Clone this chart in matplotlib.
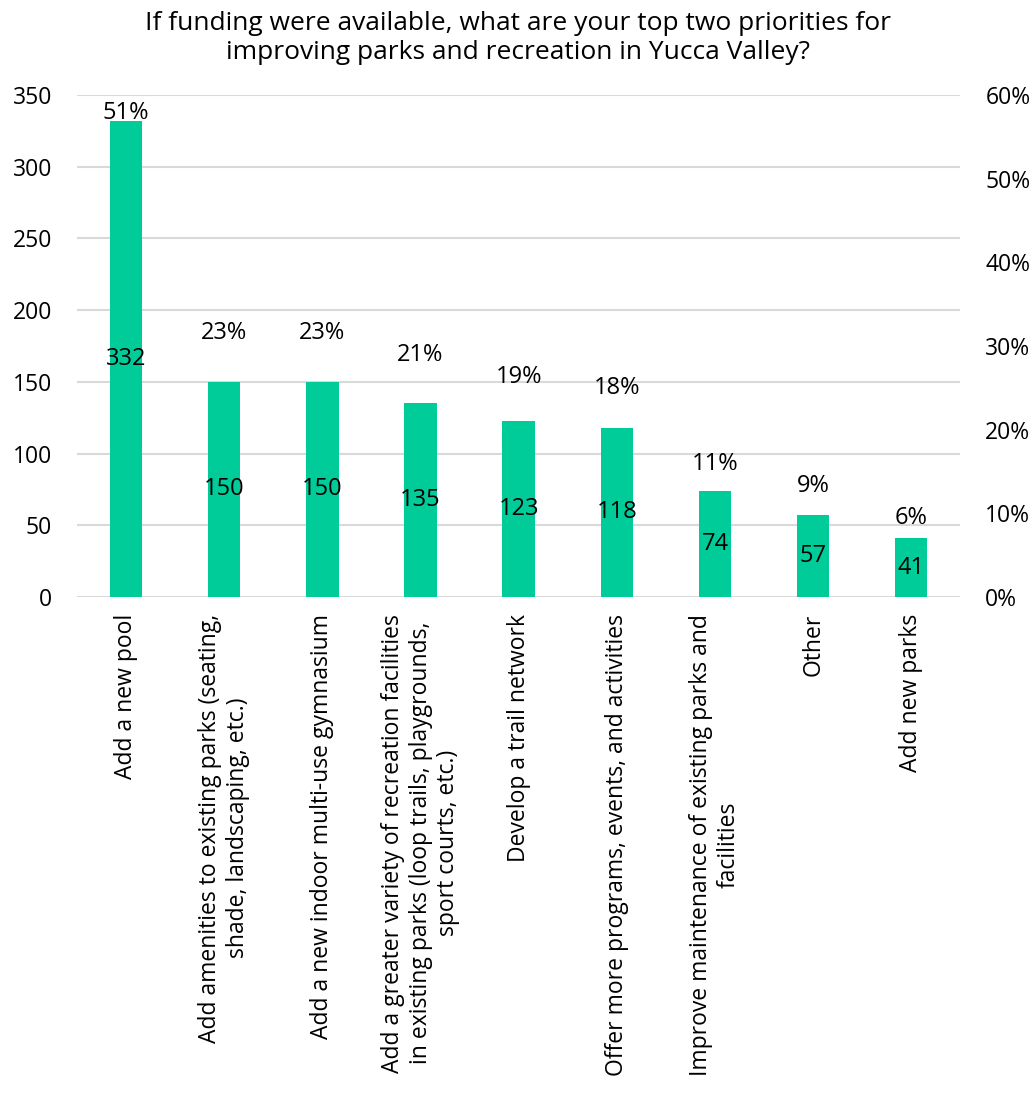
import matplotlib.pyplot as plt

plt.rcParams['font.family'] = ['Open Sans', 'DejaVu Sans']

categories = [
    "Add a new pool",
    "Add amenities to existing parks (seating,\nshade, landscaping, etc.)",
    "Add a new indoor multi-use gymnasium",
    "Add a greater variety of recreation facilities\nin existing parks (loop trails, playgrounds,\nsport courts, etc.)",
    "Develop a trail network",
    "Offer more programs, events, and activities",
    "Improve maintenance of existing parks and\nfacilities",
    "Other",
    "Add new parks",
]
counts = [332, 150, 150, 135, 123, 118, 74, 57, 41]
percents = [51, 23, 23, 21, 19, 18, 11, 9, 6]

title = ("If funding were available, what are your top two priorities for\n"
         "improving parks and recreation in Yucca Valley?")

bar_color = '#00CC99'
grid_color = '#D9D9D9'
fs = 17

fig = plt.figure(figsize=(10.36, 10.99), dpi=100)
ax = fig.add_axes([0.0743, 0.4568, 0.8527, 0.4568])
ax2 = ax.twinx()

x = range(len(categories))
ax.bar(x, counts, width=0.33, color=bar_color, zorder=3)
ax.set_xlim(-0.5, len(categories) - 0.5)
ax.set_ylim(0, 350)
ax.set_yticks(range(0, 351, 50))
ax.grid(axis='y', color=grid_color, linewidth=1.5, zorder=0)
ax.set_axisbelow(True)

ax2.set_ylim(0, 60)
ax2.set_yticks(range(0, 61, 10))
ax2.set_yticklabels([f"{v}%" for v in range(0, 61, 10)])

for a in (ax, ax2):
    for s in a.spines.values():
        s.set_visible(False)
    a.tick_params(length=0, labelsize=16.5)
ax.tick_params(axis='y', pad=18)
ax2.tick_params(axis='y', pad=18)

ax.set_xticks(list(x))
ax.set_xticklabels(categories, rotation=90, ha='center', va='top',
                   multialignment='center', fontsize=16.5)
ax.tick_params(axis='x', pad=12)

# count labels in the middle of each bar
for i, c in enumerate(counts):
    ax.text(i, c / 2, str(c), ha='center', va='center', fontsize=fs, zorder=4)

# percent labels above bars (Excel-style secondary series, clamped at top)
for i, p in enumerate(percents):
    ypos = min(p * 1.3 + 1.6, 57.8)
    ax2.text(i, ypos, f"{p}%", ha='center', va='center', fontsize=fs, zorder=4)

fig.suptitle(title, fontsize=19, y=0.99, va='top', linespacing=1.2)

fig.savefig('out.png', dpi=100)
